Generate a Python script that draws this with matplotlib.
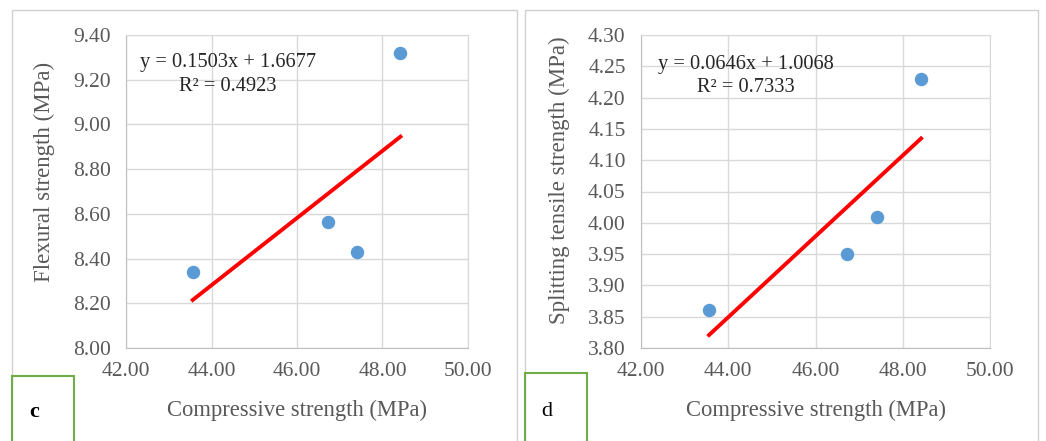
import matplotlib.pyplot as plt
from matplotlib.patches import Rectangle
import numpy as np

plt.rcParams["font.family"] = ["Liberation Serif", "DejaVu Serif"]

# compressive strength (same four mixes in both panels)
compressive = [43.56, 46.73, 47.41, 48.42]
flexural = [8.34, 8.565, 8.43, 9.32]
splitting = [3.86, 3.95, 4.01, 4.23]

x_ticks = [42.0, 44.0, 46.0, 48.0, 50.0]
flex_ticks = [8.0, 8.2, 8.4, 8.6, 8.8, 9.0, 9.2, 9.4]
split_ticks = [3.80, 3.85, 3.90, 3.95, 4.00, 4.05, 4.10, 4.15, 4.20, 4.25, 4.30]

flex_fit = (0.1503, 1.6677, 0.4923)
split_fit = (0.0646, 1.0068, 0.7333)

W, H = 1046, 441
fig = plt.figure(figsize=(W / 100, H / 100), dpi=100)

grey = "#595959"
grid = "#d9d9d9"


def panel(rect, y, yticks, fit, ylabel, eq_xy, ylabel_xy, letter, box):
    ax = fig.add_axes(rect)
    ax.scatter(compressive, y, s=75, color="#5B9BD5", zorder=3)
    m, b, r2 = fit
    xs = np.array([min(compressive), max(compressive)])
    ax.plot(xs, m * xs + b, color="#FF0000", lw=2.8, zorder=2)
    ax.set_xlim(x_ticks[0], x_ticks[-1])
    ax.set_ylim(yticks[0], yticks[-1])
    ax.set_xticks(x_ticks)
    ax.set_yticks(yticks)
    ax.set_xticklabels(["%.2f" % v for v in x_ticks])
    ax.set_yticklabels(["%.2f" % v for v in yticks])
    ax.tick_params(length=0, labelsize=15.5, colors=grey, pad=11)
    ax.tick_params(axis="x", pad=10)
    ax.grid(True, color=grid, lw=1)
    ax.set_axisbelow(True)
    for s in ax.spines.values():
        s.set_color(grid)
    ax.spines["bottom"].set_color("#bfbfbf")
    ax.spines["left"].set_color("#bfbfbf")
    fig.text(eq_xy[0] / W, 1 - eq_xy[1] / H, "y = %.4fx + %.4f" % (m, b),
             fontsize=14.7, ha="center", va="center", color="#262626")
    fig.text(eq_xy[0] / W, 1 - (eq_xy[1] + 24) / H, "R² = %.4f" % r2,
             fontsize=14.7, ha="center", va="center", color="#262626")
    fig.text(ylabel_xy[0] / W, 1 - ylabel_xy[1] / H, ylabel, rotation=90,
             fontsize=16.5, ha="center", va="center", color=grey)
    cx = (rect[0] + rect[2] / 2)
    fig.text(cx, 1 - 410 / H, "Compressive strength (MPa)", fontsize=16.3,
             ha="center", va="center", color=grey)
    # outer frame of the panel
    fig.patches.append(Rectangle((box[0] / W, -0.1), (box[1] - box[0]) / W,
                                 1.1 - 10 / H, transform=fig.transFigure,
                                 fill=False, ec="#d0d0d0", lw=1))
    # letter box
    fig.patches.append(Rectangle((box[0] / W, -0.1), 62 / W, 0.1 + (H - box[2]) / H,
                                 transform=fig.transFigure, fill=False,
                                 ec="#70AD47", lw=1.5))
    fig.text((box[0] + 22) / W, 1 - 412 / H, letter, fontsize=16,
             ha="center", va="center", color="black",
             fontweight="bold" if letter == "c" else "normal")
    return ax


panel([126 / W, 1 - 348 / H, 342 / W, 313 / H], flexural, flex_ticks, flex_fit,
      "Flexural strength (MPa)", (228, 62), (44, 172), "c", (12, 517, 376))
panel([641 / W, 1 - 348 / H, 349 / W, 313 / H], splitting, split_ticks, split_fit,
      "Splitting tensile strength (MPa)", (746, 64), (559, 180), "d", (525, 1038, 373))

fig.savefig("out.png", dpi=100)
